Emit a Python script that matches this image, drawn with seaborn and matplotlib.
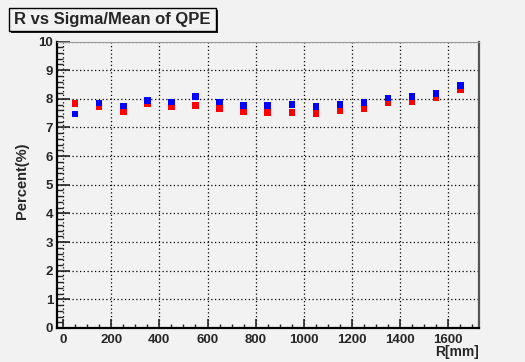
import numpy as np
import pandas as pd
import matplotlib
matplotlib.use("Agg")
import matplotlib.pyplot as plt
from matplotlib.patches import Rectangle
from matplotlib.ticker import MultipleLocator
import seaborn as sns

# Radial bins (bin centres, mm) and resolution of each reconstruction (%)
r_mm = [50, 150, 250, 350, 450, 550, 650, 750, 850, 950, 1050,
        1150, 1250, 1350, 1450, 1550, 1650]
res_red = [7.84, 7.74, 7.54, 7.82, 7.74, 7.77, 7.67, 7.54, 7.53, 7.52, 7.48,
           7.60, 7.65, 7.87, 7.91, 8.03, 8.32]
res_blue = [7.47, 7.86, 7.75, 7.94, 7.88, 8.08, 7.89, 7.77, 7.77, 7.80, 7.74,
            7.80, 7.87, 8.02, 8.08, 8.18, 8.46]
series_names = ["method A", "method B"]
series_colors = ["#ff0000", "#0000ff"]

title = "R vs Sigma/Mean of QPE"
xlabel = "R[mm]"
ylabel = "Percent(%)"

df = pd.DataFrame({
    "R": r_mm + r_mm,
    "value": res_red + res_blue,
    "series": [series_names[0]] * len(r_mm) + [series_names[1]] * len(r_mm),
})

sns.set_style("ticks")
plt.rcParams["font.family"] = ["Liberation Sans", "DejaVu Sans"]
plt.rcParams["font.weight"] = "bold"

bg = "#f2f2f2"
W, H = 525, 362
fig = plt.figure(figsize=(W / 100, H / 100), dpi=100, facecolor=bg)
ax = fig.add_axes([57.3 / W, 1 - 328 / H, (479.3 - 57.3) / W, (328 - 41.5) / H])
ax.set_facecolor(bg)

sns.scatterplot(data=df, x="R", y="value", hue="series",
                palette=dict(zip(series_names, series_colors)),
                marker="s", s=22, linewidth=0, legend=False, ax=ax, zorder=3)

ax.set_xlim(-24, 1729)
ax.set_ylim(0, 10)

ax.xaxis.set_major_locator(MultipleLocator(200))
ax.xaxis.set_minor_locator(MultipleLocator(50))
ax.yaxis.set_major_locator(MultipleLocator(1))
ax.yaxis.set_minor_locator(MultipleLocator(0.2))

ax.tick_params(axis="x", which="major", direction="in", length=6.2, width=1.2,
               pad=4, labelsize=9.5, top=False)
ax.tick_params(axis="x", which="minor", direction="in", length=3.1, width=1.0, top=False)
ax.tick_params(axis="y", which="major", direction="in", length=9, width=1.2,
               pad=3, labelsize=9.5, right=False)
ax.tick_params(axis="y", which="minor", direction="in", length=4.5, width=1.0, right=False)
for lab in ax.get_xticklabels() + ax.get_yticklabels():
    lab.set_fontweight("bold")

ax.grid(True, which="major", color="black", linestyle=(0, (1, 2)), linewidth=0.9, zorder=1)
ax.set_axisbelow(True)

for side in ("left", "bottom"):
    ax.spines[side].set_color("black")
    ax.spines[side].set_linewidth(1.6)
ax.spines["right"].set_color("#555555")
ax.spines["right"].set_linewidth(1.6)
ax.spines["top"].set_color("#999999")
ax.spines["top"].set_linewidth(0.8)

ax.set_xlabel("")
ax.set_ylabel("")
fig.text(479 / W, 1 - 352 / H, xlabel, ha="right", va="center",
         fontsize=10, fontweight="bold")
fig.text(22 / W, 1 - 181 / H, ylabel, ha="center", va="center",
         rotation=90, fontsize=10.5, fontweight="bold")

# Title box with a drop shadow
bx0, bx1, by0, by1 = 9, 216, 7.5, 31
shadow = Rectangle(((bx0 + 2) / W, 1 - (by1 + 2) / H), (bx1 - bx0) / W, (by1 - by0) / H,
                   transform=fig.transFigure, facecolor="#222222", edgecolor="none", zorder=5)
box = Rectangle((bx0 / W, 1 - by1 / H), (bx1 - bx0) / W, (by1 - by0) / H,
                transform=fig.transFigure, facecolor=bg, edgecolor="black",
                linewidth=1.0, zorder=6)
fig.add_artist(shadow)
fig.add_artist(box)
fig.text((bx0 + bx1) / 2 / W, 1 - (by0 + by1) / 2 / H, title, ha="center", va="center",
         fontsize=12, fontweight="bold", zorder=7)

fig.savefig("out.png", dpi=100, facecolor=bg)
